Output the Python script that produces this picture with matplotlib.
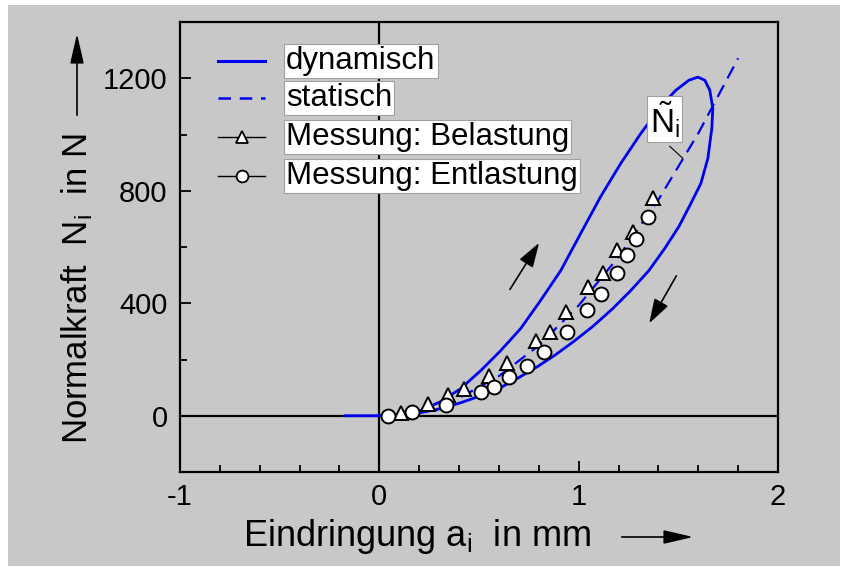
import matplotlib
matplotlib.use("Agg")
import matplotlib.pyplot as plt
from matplotlib.patches import Rectangle, FancyArrowPatch
from matplotlib.lines import Line2D
from matplotlib.ticker import MultipleLocator

plt.rcParams['font.family'] = ['Liberation Sans', 'DejaVu Sans']
plt.rcParams['mathtext.fontset'] = 'custom'
plt.rcParams['mathtext.rm'] = 'Liberation Sans'
plt.rcParams['mathtext.it'] = 'Liberation Sans:italic'
plt.rcParams['mathtext.bf'] = 'Liberation Sans:bold'
plt.rcParams['axes.unicode_minus'] = False

# ---- data ----
# dynamic loop: approach, loading branch, peak, unloading branch
dyn_a = [-0.17, 0.0, 0.106, 0.206, 0.307, 0.407, 0.508, 0.608, 0.709, 0.809, 0.910,
         1.010, 1.111, 1.211, 1.312, 1.412, 1.487, 1.553, 1.598, 1.633, 1.658,
         1.673, 1.668, 1.648, 1.613, 1.563, 1.503, 1.432, 1.352, 1.261, 1.171,
         1.070, 0.975, 0.884, 0.794, 0.698, 0.608, 0.508, 0.407, 0.307, 0.206,
         0.106, 0.0]
dyn_N = [0, 0, 4, 18, 50, 96, 160, 231, 310, 410, 516,
         648, 780, 897, 1004, 1100, 1157, 1193, 1204, 1193, 1157,
         1093, 1022, 915, 826, 755, 673, 595, 516, 445, 381,
         317, 264, 217, 175, 135, 100, 71, 46, 25, 11,
         4, 0]

stat_a = [0.0, 0.2, 0.4, 0.6, 0.8, 1.0, 1.2, 1.4, 1.6, 1.8]
stat_N = [0, 16, 63, 141, 250, 392, 565, 768, 1004, 1271]

bel_a = [0.111, 0.246, 0.342, 0.427, 0.548, 0.638, 0.784, 0.854, 0.935, 1.045,
         1.121, 1.191, 1.271, 1.372]
bel_N = [11, 43, 75, 96, 142, 189, 267, 299, 370, 459, 509, 588, 652, 773]

ent_a = [0.045, 0.166, 0.332, 0.508, 0.573, 0.648, 0.739, 0.824, 0.940, 1.040,
         1.111, 1.191, 1.241, 1.286, 1.347]
ent_N = [0, 14, 39, 85, 103, 139, 178, 228, 299, 377, 434, 506, 573, 627, 705]

x_ticks = [-1, 0, 1, 2]
y_ticks = [0, 400, 800, 1200]
legend_labels = ["dynamisch", "statisch", "Messung: Belastung", "Messung: Entlastung"]

BLUE = '#0000f0'
GRAY = '#c8c8c8'
W, H = 847, 573

fig = plt.figure(figsize=(W / 100, H / 100), dpi=100, facecolor='white')
fig.patches.append(Rectangle((8 / W, 1 - 566 / H), (840 - 8) / W, (566 - 5) / H,
                             transform=fig.transFigure, facecolor=GRAY,
                             edgecolor='none', zorder=-10))

ax = fig.add_axes([180 / W, 1 - 472 / H, (778 - 180) / W, (472 - 22) / H])
ax.set_facecolor(GRAY)
ax.set_xlim(-1, 2)
ax.set_ylim(-200, 1400)
for s in ax.spines.values():
    s.set_linewidth(1.6)
ax.set_xticks(x_ticks)
ax.set_yticks(y_ticks)
ax.xaxis.set_minor_locator(MultipleLocator(0.2))
ax.yaxis.set_minor_locator(MultipleLocator(200))
ax.tick_params(which='both', direction='in', top=False, right=False, width=1.3,
               labelsize=21, colors='black')
ax.tick_params(which='major', length=8)
ax.tick_params(which='minor', length=5)
ax.tick_params(axis='y', pad=9)
ax.tick_params(axis='x', pad=8)

ax.axhline(0, color='black', lw=1.6, zorder=1)
ax.axvline(0, color='black', lw=1.6, zorder=1)

ax.plot(dyn_a, dyn_N, color=BLUE, lw=2.0, zorder=2, solid_joinstyle='round')
ax.plot(stat_a, stat_N, color=BLUE, lw=1.6, ls=(0, (6, 3.5)), zorder=2)
ax.plot(bel_a, bel_N, ls='none', marker='^', ms=10, mfc='white', mec='black',
        mew=1.4, zorder=4)
ax.plot(ent_a, ent_N, ls='none', marker='o', ms=10, mfc='white', mec='black',
        mew=1.4, zorder=4)

# direction arrows
for start, end in [((0.648, 441), (0.809, 623)), ((1.497, 506), (1.347, 320))]:
    ax.add_patch(FancyArrowPatch(start, end, transform=ax.transData,
                                 arrowstyle='-|>,head_length=1.0,head_width=0.32',
                                 mutation_scale=15, color='black', lw=1.2, zorder=5))

# N_i label with leader line
ax.plot([1.457, 1.523], [958, 915], color='black', lw=0.8, zorder=5)
ax.text(1.432, 1054, r'$\tilde{\mathrm{N}}_{\mathrm{i}}$', fontsize=24,
        ha='center', va='center', zorder=6,
        bbox=dict(boxstyle='square,pad=0.08', facecolor='white',
                  edgecolor='#a0a0a0', lw=0.8))

# manual legend
def fx(px):
    return (px - 180) / 598.0

def fy(py):
    return (472 - py) / 450.0

leg_y = [61, 98, 137, 176]
handles = [
    dict(color=BLUE, lw=2.2, ls='-', marker=None),
    dict(color=BLUE, lw=1.8, ls=(0, (5, 3.5)), marker=None),
    dict(color='black', lw=1.0, ls='-', marker='^'),
    dict(color='black', lw=1.0, ls='-', marker='o'),
]
for yy, lab, h in zip(leg_y, legend_labels, handles):
    ln = Line2D([fx(218), fx(265)], [fy(yy), fy(yy)], transform=ax.transAxes,
                color=h['color'], lw=h['lw'], ls=h['ls'], zorder=6)
    ax.add_line(ln)
    if h['marker']:
        ax.plot([fx(241.5)], [fy(yy)], transform=ax.transAxes, marker=h['marker'],
                ms=8.5, mfc='white', mec='black', mew=1.3, ls='none', zorder=7)
    ax.text(fx(286), fy(yy), lab, transform=ax.transAxes, fontsize=22.5,
            ha='left', va='center', zorder=6,
            bbox=dict(boxstyle='square,pad=0.07', facecolor='white',
                      edgecolor='#a0a0a0', lw=0.8))

# axis labels with arrows
fig.text(417 / W, 1 - 537 / H, r'Eindringung a$_{\mathrm{i}}$  in mm', fontsize=26,
         ha='center', va='center')
fig.add_artist(FancyArrowPatch(
    (619 / W, 1 - 537 / H), (696 / W, 1 - 537 / H), transform=fig.transFigure,
    arrowstyle='-|>,head_length=1.3,head_width=0.3', color='black', lw=1.2,
    mutation_scale=14))
fig.text(77 / W, 1 - 288 / H, r'Normalkraft  N$_{\mathrm{i}}$  in N', fontsize=25,
         ha='center', va='center', rotation=90)
fig.add_artist(FancyArrowPatch(
    (77 / W, 1 - 118 / H), (77 / W, 1 - 31 / H), transform=fig.transFigure,
    arrowstyle='-|>,head_length=1.3,head_width=0.3', color='black', lw=1.2,
    mutation_scale=14))

fig.savefig('out.png', dpi=100, facecolor='white')
